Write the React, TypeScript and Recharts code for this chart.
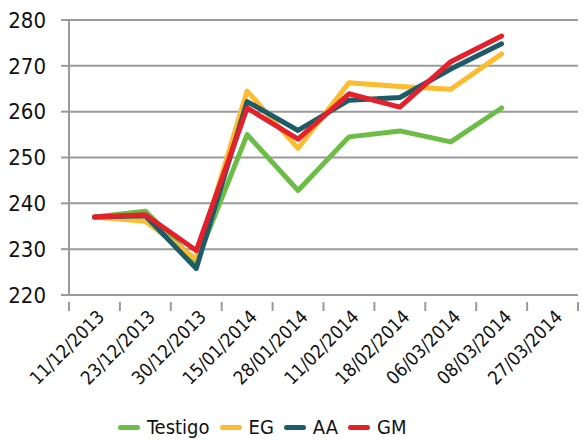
import React from "react";
import { LineChart, Line, XAxis, YAxis, CartesianGrid, Legend } from "recharts";

const dates = [
  "11/12/2013",
  "23/12/2013",
  "30/12/2013",
  "15/01/2014",
  "28/01/2014",
  "11/02/2014",
  "18/02/2014",
  "06/03/2014",
  "08/03/2014",
  "27/03/2014",
];

// last date has no readings
const testigo = [237, 238.3, 227.2, 255, 242.8, 254.5, 255.8, 253.4, 260.8, null];
const eg = [237, 236.1, 227.8, 264.5, 252, 266.3, 265.5, 264.9, 272.6, null];
const aa = [237, 237.3, 225.8, 262.2, 255.9, 262.5, 263.1, 269.3, 274.8, null];
const gm = [237, 237.5, 229.7, 260.8, 254, 263.9, 261, 270.9, 276.5, null];

const yTicks = [220, 230, 240, 250, 260, 270, 280];

const series = [
  { key: "Testigo", color: "#6cbd45" },
  { key: "EG", color: "#fdbb30" },
  { key: "AA", color: "#1e5b68" },
  { key: "GM", color: "#e5202a" },
];

const chartData = dates.map((d, i) => ({
  date: d,
  Testigo: testigo[i],
  EG: eg[i],
  AA: aa[i],
  GM: gm[i],
}));

const FONT = "'Liberation Sans Narrow', 'DejaVu Sans Condensed', 'Roboto Condensed', 'Arial Narrow', sans-serif";
const GRID = "#9a9a9a";

const W = 588;
const H = 440;
const M = { top: 20, right: 10, left: 9, bottom: 0 };
const Y_W = 60;
const BAND = (W - M.left - M.right - Y_W) / dates.length;

function DateTick(props: any) {
  const { x, y, payload, index } = props;
  const left = x - BAND / 2;
  return (
    <g>
      <line x1={left} y1={y - 1} x2={left} y2={y + 8} stroke={GRID} strokeWidth={2} />
      {index === dates.length - 1 && (
        <line x1={x + BAND / 2} y1={y - 1} x2={x + BAND / 2} y2={y + 8} stroke={GRID} strokeWidth={2} />
      )}
      <text
        x={x + 11}
        y={y + 15}
        transform={`rotate(-45, ${x + 11}, ${y + 15})`}
        textAnchor="end"
        fontSize={18.5}
        fontFamily={FONT}
        fill="#111"
      >
        {payload.value}
      </text>
    </g>
  );
}

function LegendContent() {
  return (
    <div style={{ height: 40, paddingTop: 16, boxSizing: "border-box" }}>
      <div
        style={{
          height: 22,
          display: "flex",
          alignItems: "center",
          fontFamily: FONT,
          fontSize: 20,
          lineHeight: "22px",
          color: "#111",
          paddingLeft: 118,
        }}
      >
        {series.map((s) => (
          <div key={s.key} style={{ display: "flex", alignItems: "center", marginRight: 10 }}>
            <span
              style={{
                display: "inline-block",
                width: 22,
                height: 5,
                borderRadius: 3,
                background: s.color,
                marginRight: 7,
              }}
            />
            <span>{s.key}</span>
          </div>
        ))}
      </div>
    </div>
  );
}

export default function App() {
  return (
    <div style={{ position: "absolute", left: 0, top: 0, background: "#fff" }}>
      <LineChart width={W} height={H} data={chartData} margin={M}>
        <CartesianGrid vertical={false} stroke={GRID} strokeWidth={2} />
        <XAxis
          dataKey="date"
          scale="band"
          interval={0}
          tickLine={false}
          axisLine={{ stroke: GRID, strokeWidth: 2 }}
          tick={<DateTick />}
          height={105}
        />
        <YAxis
          domain={[220, 280]}
          ticks={yTicks}
          width={Y_W}
          tickLine={{ stroke: GRID, strokeWidth: 2 }}
          tickSize={8}
          tickMargin={15}
          axisLine={{ stroke: GRID, strokeWidth: 2 }}
          tick={{ fontSize: 22, fontFamily: FONT, fill: "#111" }}
        />
        <Legend
          verticalAlign="bottom"
          content={<LegendContent />}
          wrapperStyle={{ left: 0, width: W }}
        />
        {series.map((s) => (
          <Line
            key={s.key}
            dataKey={s.key}
            stroke={s.color}
            strokeWidth={5}
            dot={false}
            activeDot={false}
            strokeLinejoin="round"
            strokeLinecap="round"
            isAnimationActive={false}
          />
        ))}
      </LineChart>
    </div>
  );
}
